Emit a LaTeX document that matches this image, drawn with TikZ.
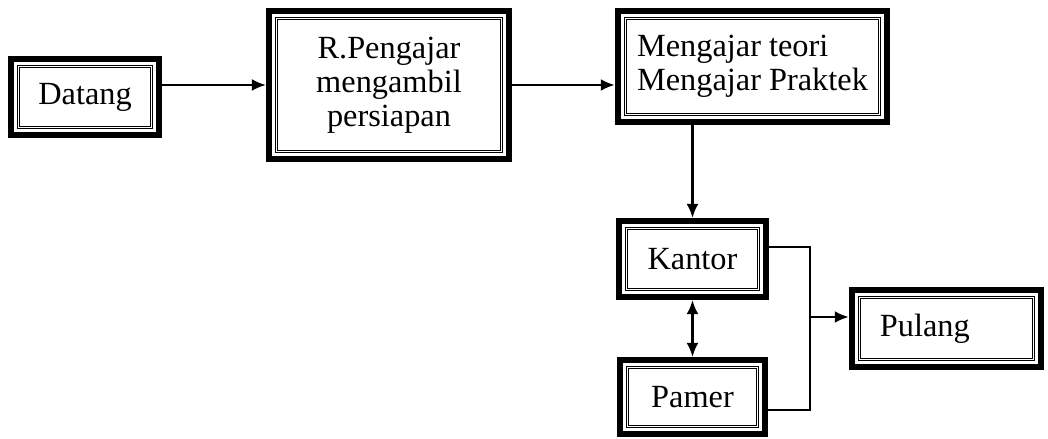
\documentclass[tikz,border=0pt]{standalone}
\usepackage{fontspec}
\setmainfont{Liberation Serif}
\usetikzlibrary{arrows.meta}
\usetikzlibrary{positioning}

\tikzset{
  flowbox/.style={draw, line width=4.3pt, align=center, inner sep=2pt,
                  font=\fontsize{23}{24}\selectfont},
  flowline/.style={line width=1.7pt, -{Latex[length=10pt,width=8.5pt]}},
  innerframe/.style={line width=0.7pt, double, double distance=1pt}
}

\begin{document}
\begin{tikzpicture}[x=0.025cm, y=-0.025cm]
    \useasboundingbox (0,0) rectangle (1048,439);

    \node[flowbox, minimum width=3.7cm,  minimum height=1.9cm] (datang) at (85,97)      {Datang};
    \node[flowbox, minimum width=6.0cm,  minimum height=3.7cm] (rpengajar) at (389,85)  {R.Pengajar\\mengambil\\persiapan};
    \node[flowbox, minimum width=6.73cm, minimum height=2.78cm, align=left] (mengajar) at (752.5,66.5) {Mengajar teori\\Mengajar Praktek};
    \node[flowbox, minimum width=3.68cm, minimum height=1.9cm] (kantor) at (692.5,259) {Kantor};
    \node[flowbox, minimum width=3.63cm, minimum height=1.85cm] (pamer)  at (692.5,397) {Pamer};
    \node[flowbox, text width=3.33cm, inner xsep=0.7cm, align=left,
          minimum height=1.93cm] (pulang) at (946.5,328.5) {Pulang};

    % thin double line inside each box
    \foreach \n in {datang,rpengajar,mengajar,kantor,pamer,pulang}
      \draw[innerframe] ([shift={(7.5pt,7.5pt)}]\n.south west) rectangle ([shift={(-7.5pt,-7.5pt)}]\n.north east);

    \coordinate (jtop) at (810,247);
    \coordinate (jmid) at (810,317);
    \coordinate (jbot) at (810,410);

    \draw[flowline] (datang.east |- rpengajar) -- (rpengajar.west);
    \draw[flowline] (rpengajar.east) -- (rpengajar.east -| mengajar.west);
    \draw[flowline] (mengajar.south -| kantor.north) -- (kantor.north);
    \draw[flowline, {Latex[length=10pt,width=8.5pt]}-{Latex[length=10pt,width=8.5pt]}] (kantor.south) -- (pamer.north);
    \draw[line width=1.7pt] (kantor.east |- jtop) -- (jtop) -- (jbot) -- (pamer.east |- jbot);
    \draw[flowline] (jmid) -- (jmid -| pulang.west);
\end{tikzpicture}
\end{document}
